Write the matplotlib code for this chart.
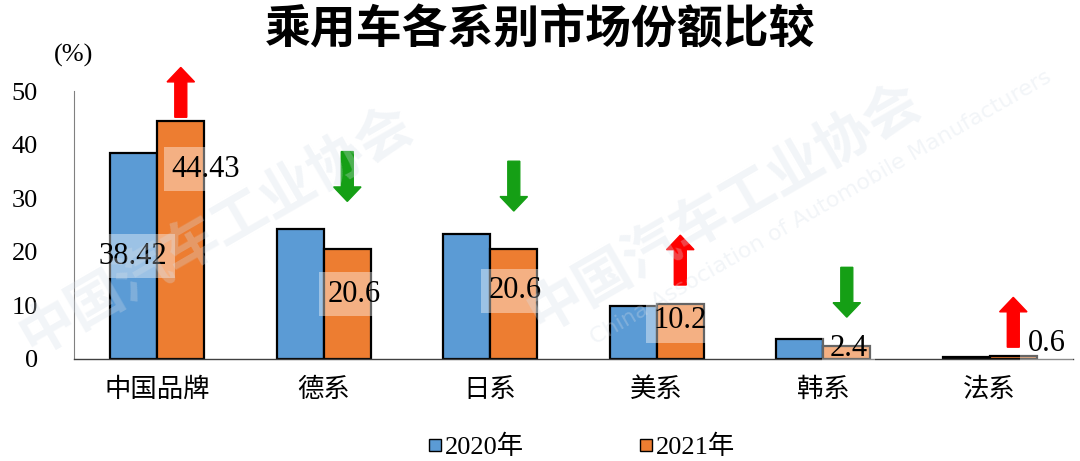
import numpy as np
import matplotlib
matplotlib.use('Agg')
import matplotlib.pyplot as plt
from matplotlib.lines import Line2D

plt.rcParams['font.family'] = ['Liberation Serif', 'Noto Sans CJK SC']

# data
cats = ['中国品牌', '德系', '日系', '美系', '韩系', '法系']
share_2020 = [38.42, 24.3, 23.4, 9.9, 3.7, 0.3]
share_2021 = [44.43, 20.6, 20.6, 10.2, 2.4, 0.6]
label_2021 = ['44.43', '20.6', '20.6', '10.2', '2.4', '0.6']
years = ['2020年', '2021年']

c20 = '#5B9BD5'
c21 = '#ED7D31'
cjk = ['Noto Sans CJK SC', 'DejaVu Sans']

fig = plt.figure(figsize=(10.8, 4.61), dpi=100)
ax = fig.add_axes([0.0685, 0.2213, 0.925, 0.5813])

x = np.arange(len(cats))
w = 0.283
ax.bar(x - w / 2, share_2020, w, color=c20, edgecolor='black', linewidth=1.6, zorder=2)
ax.bar(x + w / 2, share_2021, w, color=c21, edgecolor='black', linewidth=1.6, zorder=2)

ax.set_xlim(-0.5, 5.5)
ax.set_ylim(0, 50)
ax.set_yticks(range(0, 51, 10))
ax.set_xticks(x)
ax.set_xticklabels(cats, family=cjk, fontsize=19)
ax.tick_params(axis='y', length=0, pad=26, labelsize=19)
ax.tick_params(axis='x', length=0, pad=12)
for s in ['top', 'right']:
    ax.spines[s].set_visible(False)
ax.spines['left'].set_color('#808080')
ax.spines['bottom'].set_color('#404040')
ax.spines['left'].set_linewidth(0.8)
ax.spines['bottom'].set_linewidth(1.0)

# value labels (only first category has a 2020 label)
box = dict(boxstyle='square,pad=0.25', facecolor='white', edgecolor='none', alpha=0.4)
ax.text(-0.145, 19.2, f'{share_2020[0]:.2f}', ha='center', va='center',
        fontsize=22, bbox=box, zorder=4)
lab_x = [0.29, 1.18, 2.15, 3.14, 4.15, 5.34]
lab_y = [35.4, 12.1, 12.7, 7.1, 1.9, 2.8]
for i in range(len(cats)):
    ax.text(lab_x[i], lab_y[i], label_2021[i], ha='center', va='center',
            fontsize=22, bbox=box, zorder=4)

# change arrows
arrow_base = [45.1, 38.7, 36.9, 13.8, 17.1, 2.2]
for i in range(len(cats)):
    up = share_2021[i] > share_2020[i]
    col = '#FF0000' if up else '#159F15'
    dy = 9.3 if up else -9.3
    ax.arrow(i + w / 2, arrow_base[i], 0, dy, width=0.072, head_width=0.165,
             head_length=2.7, length_includes_head=True, color=col,
             clip_on=False, zorder=5)

fig.text(0.5, 0.935, '乘用车各系别市场份额比较', ha='center', va='center',
         fontsize=33, family=cjk, weight='bold')
fig.text(0.05, 0.88, '(%)', ha='left', va='center', fontsize=19)

# faint watermark
wm = dict(color='#D5DEE8', alpha=0.3, ha='center', va='center', zorder=0)
fig.text(0.67, 0.55, '中国汽车工业协会', rotation=30, fontsize=40, family=cjk,
         weight='bold', **wm)
fig.text(0.76, 0.55, 'China Association of Automobile Manufacturers', rotation=30,
         fontsize=16, family='DejaVu Sans', **wm)
fig.text(0.2, 0.5, '中国汽车工业协会', rotation=30, fontsize=40, family=cjk,
         weight='bold', **wm)

handles = [Line2D([], [], marker='s', linestyle='none', markersize=9,
                  markerfacecolor=c, markeredgecolor='black')
           for c in (c20, c21)]
fig.legend(handles, years, loc='center', bbox_to_anchor=(0.538, 0.03), ncol=2,
           frameon=False, fontsize=19, handlelength=0.6, handletextpad=0.1,
           columnspacing=4.3)

fig.savefig('out.png', dpi=100)
